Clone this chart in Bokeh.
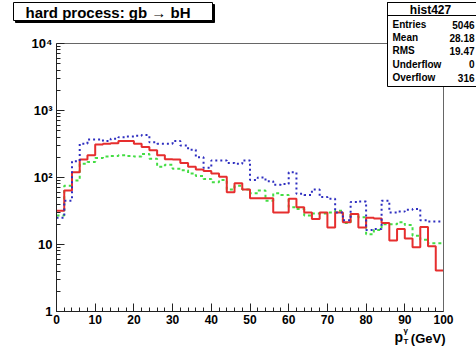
from bokeh.plotting import figure
from bokeh.models import (Range1d, FixedTicker, Label, BoxAnnotation, ColumnDataSource,
                          LinearAxis, LogAxis)
from bokeh.embed import file_html
from bokeh.resources import INLINE

# ---------------- data ----------------
bin_edges = list(range(0, 101, 2))  # 50 bins of 2 GeV

red_counts = [32, 64, 120, 185, 215, 310, 320, 325, 350, 350,
              320, 285, 255, 215, 188, 185, 165, 145, 132, 125,
              115, 103, 60, 82, 66, 49, 49, 49, 30, 30,
              48, 36, 30, 24, 30, 18, 30, 21.5, 28.5, 18,
              25, 24.5, 21, 11.5, 17, 12.3, 9.1, 18.3, 9.4, 4.1]

blue_counts = [25, 45, 175, 320, 370, 370, 350, 380, 400, 410,
               420, 430, 335, 320, 320, 350, 300, 260, 200, 140,
               180, 180, 165, 160, 180, 92, 100, 88, 78, 80,
               120, 57, 55, 66, 51, 48, 30, 23, 43, 44,
               16.5, 17, 45, 30, 31, 33, 34, 23, 22, 22]

green_counts = [27, 75, 90, 160, 170, 195, 205, 210, 215, 210,
                205, 225, 190, 145, 155, 135, 128, 115, 105, 95,
                85, 92, 66, 75, 66, 58, 64, 45, 58, 55,
                36, 34, 27, 29, 29, 30, 32, 21, 28.5, 25.5,
                14.2, 16.5, 20, 20, 21.5, 19.5, 13.5, 11.8, 10.4, 10.4]

x_ticks = list(range(0, 101, 10))
x_minor_ticks = list(range(0, 101, 2))
y_ticks = [1, 10, 100, 1000, 10000]
y_tick_labels = ["1", "10", "10\u00b2", "10\u00b3", "10\u2074"]
y_minor_ticks = [m * d for d in [1, 10, 100, 1000] for m in range(2, 10)]

title_text = "hard process:  gb \u2192 bH"
stats_title = "hist427"
stats_names = ["Entries", "Mean", "RMS", "Underflow", "Overflow"]
stats_values = ["5046", "28.18", "19.47", "0", "316"]

# ---------------- geometry (frame covers the whole canvas) ----------------
W, H = 476, 346
X0_PX, X100_PX = 56, 443      # pixel of x=0 and x=100
Y1_PX, Y1E4_PX = 311, 43      # pixel of y=1 and y=1e4
sc_x = (X100_PX - X0_PX) / 100.0
x_lo = -X0_PX / sc_x
x_hi = x_lo + W / sc_x
dec = (Y1_PX - Y1E4_PX) / 4.0
log_hi = 4 + Y1E4_PX / dec
log_lo = -(H - Y1_PX) / dec

def dx(cx):
    return x_lo + cx / sc_x

def dy(cy):
    return 10 ** (log_hi - cy / dec)

p = figure(width=W, height=H, output_backend="svg", toolbar_location=None, title=None,
           x_range=Range1d(x_lo, x_hi), y_range=Range1d(10 ** log_lo, 10 ** log_hi),
           y_axis_type="log", min_border=0,
           min_border_left=0, min_border_right=0, min_border_top=0, min_border_bottom=0)
p.background_fill_color = "white"
p.border_fill_color = "white"
p.outline_line_color = None
p.xgrid.visible = False
p.ygrid.visible = False

FONT = "Liberation Sans"

p.xaxis.fixed_location = 1
p.xaxis.bounds = (0, 100)
p.yaxis.fixed_location = 0
p.yaxis.bounds = (1, 10000)
p.xaxis.ticker = FixedTicker(ticks=x_ticks, minor_ticks=x_minor_ticks)
p.yaxis.ticker = FixedTicker(ticks=y_ticks, minor_ticks=y_minor_ticks)
p.yaxis.major_label_overrides = {t: s for t, s in zip(y_ticks, y_tick_labels)}
for ax in (p.xaxis, p.yaxis):
    ax.major_tick_in = 8
    ax.major_tick_out = 0
    ax.minor_tick_in = 4
    ax.minor_tick_out = 0
    ax.axis_line_color = "#222222"
    ax.major_tick_line_color = "#222222"
    ax.minor_tick_line_color = "#222222"
    ax.major_label_text_font = FONT
    ax.major_label_text_font_style = "bold"
    ax.major_label_text_color = "black"
p.xaxis.major_label_text_font_size = "12px"
p.yaxis.major_label_text_font_size = "13px"
p.xaxis.major_label_standoff = 3
p.yaxis.major_label_standoff = 4

# frame top / right edges
top_edge = LinearAxis(fixed_location=10000, bounds=(0, 100), ticker=FixedTicker(ticks=[]),
                      major_tick_line_color=None, minor_tick_line_color=None,
                      major_label_text_font_size="0px", axis_line_color="#666666")
right_edge = LogAxis(fixed_location=100, bounds=(1, 10000), ticker=FixedTicker(ticks=[]),
                     major_tick_line_color=None, minor_tick_line_color=None,
                     major_label_text_font_size="0px", axis_line_color="#666666")
p.add_layout(top_edge, "above")
p.add_layout(right_edge, "right")

# ---------------- histograms ----------------
def step_source(counts):
    return ColumnDataSource(dict(x=bin_edges, y=list(counts) + [counts[-1]]))

p.step("x", "y", source=step_source(green_counts), mode="after",
       line_color="#44dd44", line_width=2, line_dash="3 3")
p.step("x", "y", source=step_source(red_counts), mode="after",
       line_color="#e62e2e", line_width=2)
p.step("x", "y", source=step_source(blue_counts), mode="after",
       line_color="#2e2ec0", line_width=2, line_dash="2 3")

# ---------------- annotations ----------------
def box(l, r, t, b, fill="white", line="black", lw=1):
    p.add_layout(BoxAnnotation(left=dx(l), right=dx(r), top=dy(t), bottom=dy(b),
                               fill_color=fill if fill else "white",
                               fill_alpha=1.0 if fill else 0.0,
                               line_color=line, line_width=lw, line_alpha=1.0,
                               level="overlay"))

def label(text, cx, cy, size, align="left", baseline="middle", style="bold"):
    p.add_layout(Label(text=text, x=cx, y=H - cy, x_units="screen", y_units="screen",
                       text_font=FONT, text_font_size=size, text_font_style=style,
                       text_align=align, text_baseline=baseline, text_color="black",
                       level="overlay"))

# title box with shadow
box(15, 214, 4, 22, fill="black", line="black")
box(13, 212, 2, 20, fill="white", line="black")
label(title_text, 25, 11.5, "15px")

# stats box
box(387, 490, 2, 86, fill="white", line="black")
box(387, 490, 2, 15, fill=None, line="black")
label(stats_title, 430, 9, "12px", align="center")
row_y = [24, 37, 50, 63.5, 77]
for name, val, yy in zip(stats_names, stats_values, row_y):
    label(name, 392, yy, "10px")
    label(val, 474, yy, "10px", align="right")

# x-axis title: p_T^gamma (GeV)
label("p", 394, 336, "14px", baseline="alphabetic")
label("\u03b3", 403, 330, "8px", baseline="alphabetic")
label("T", 403, 341, "8px", baseline="alphabetic")
label("(GeV)", 445, 338, "13px", align="right", baseline="alphabetic")

open("out.html", "w").write(file_html(p, INLINE))
